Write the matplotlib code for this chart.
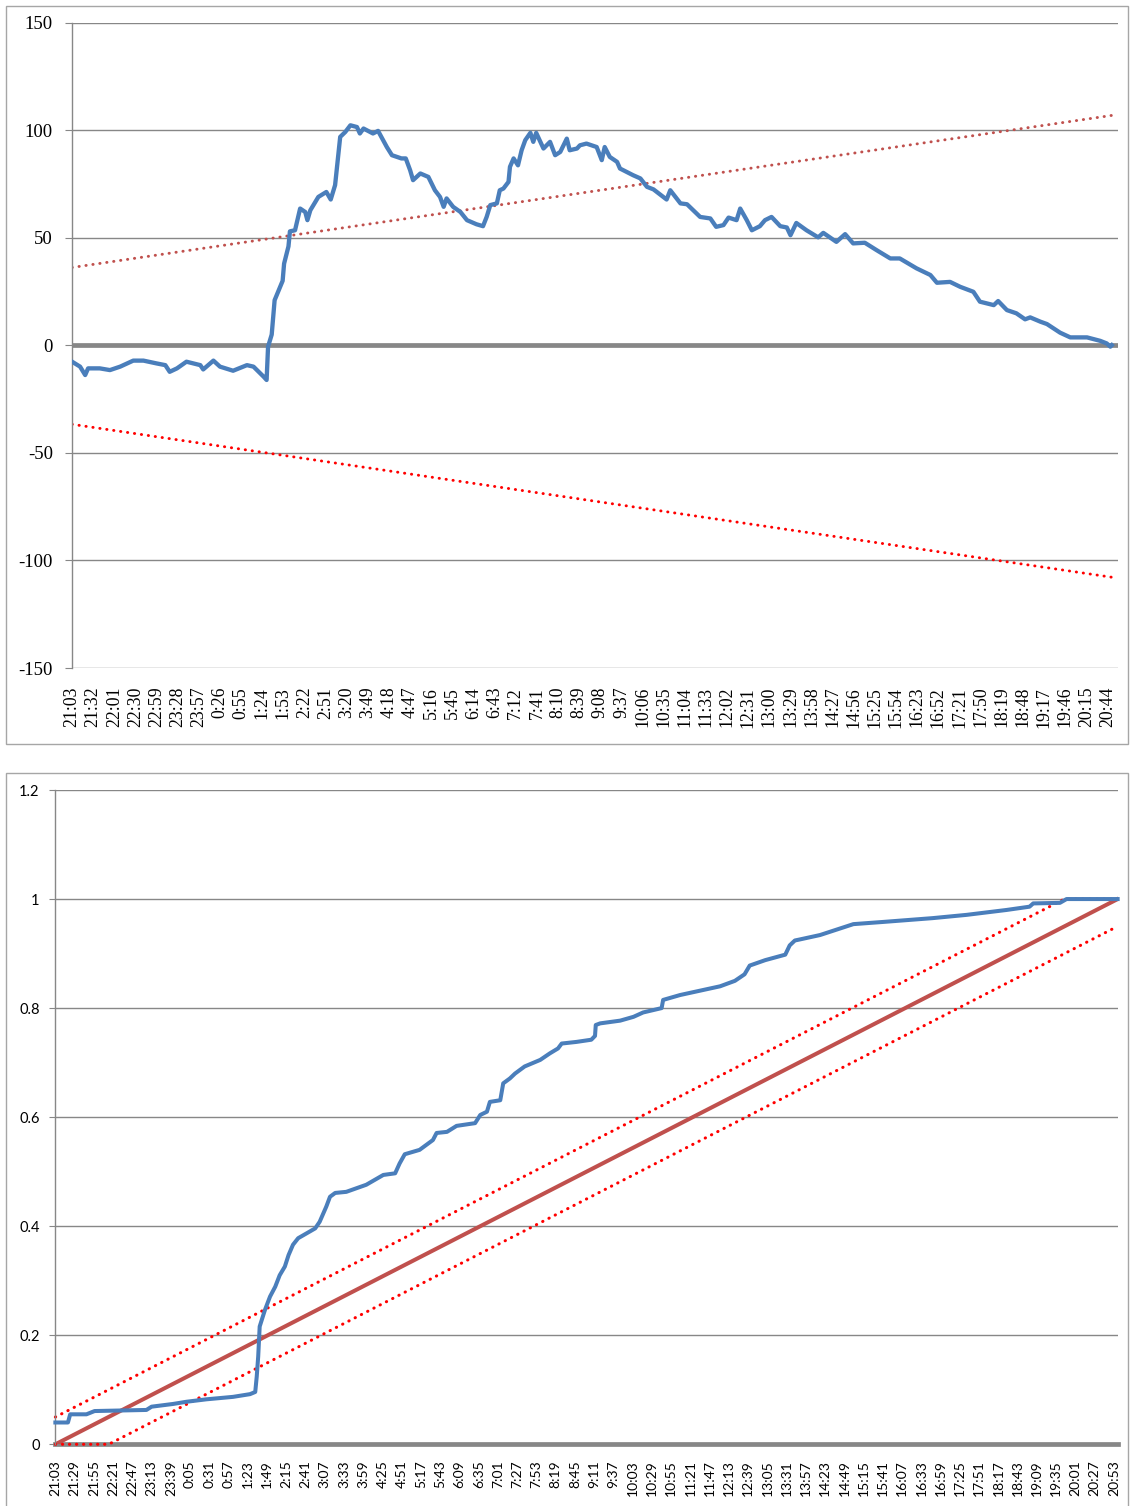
import numpy as np
import matplotlib.pyplot as plt
from matplotlib.patches import Rectangle

plt.rcParams['axes.unicode_minus'] = False
plt.rcParams['font.family'] = ['Liberation Serif', 'DejaVu Serif']

# --- Datos del gráfico superior (minuto desde 21:03, valor) ---
top_minutes = [0, 11, 18, 22, 38, 52, 66, 84, 98, 116, 128, 134, 144, 157, 176, 180, 194, 203,
               221, 240, 249, 263, 267, 269, 274, 278, 289, 291, 297, 299, 306, 313, 320, 323,
               327, 338, 349, 355, 361, 368, 375, 382, 391, 395, 400, 413, 420, 432, 439, 452,
               458, 464, 468, 478, 489, 498, 505, 510, 514, 523, 533, 542, 555, 564, 569, 574,
               583, 587, 592, 599, 601, 606, 612, 617, 622, 629, 633, 637, 647, 656, 663, 670,
               679, 683, 693, 697, 706, 720, 727, 731, 738, 748, 752, 770, 780, 789, 798, 816,
               821, 835, 844, 862, 876, 884, 894, 901, 912, 917, 926, 933, 944, 951, 960, 972,
               981, 986, 994, 1008, 1024, 1031, 1049, 1061, 1072, 1088, 1104, 1123, 1136, 1159,
               1178, 1187, 1205, 1219, 1237, 1246, 1265, 1271, 1283, 1296, 1308, 1315, 1329,
               1338, 1356, 1370, 1393, 1411, 1420, 1425, 1427]
top_values = [-7.6, -9.9, -13.8, -10.7, -10.7, -11.5, -9.9, -7.1, -7.1, -8.4, -9.2, -12.3, -10.7,
              -7.6, -9.2, -11.2, -7.1, -9.9, -11.8, -9.2, -9.9, -14.6, -16.1, -0.6, 5, 21, 30,
              38, 46, 53, 53.5, 63.6, 62, 58.2, 62.8, 69, 71.3, 67.8, 74.5, 96.9, 99.2, 102.3,
              101.5, 98.5, 100.8, 98.5, 99.7, 92.2, 88.4, 86.9, 86.9, 81.4, 76.8, 79.9, 78.3,
              72.1, 69, 64.4, 68.3, 64.4, 62, 58.2, 56.3, 55.4, 59.7, 65.2, 66, 72.1, 72.9, 76,
              83, 86.9, 83.7, 90.7, 95.4, 98.8, 94.6, 98.8, 91.5, 94.6, 88.4, 89.9, 96.1, 90.7,
              91.5, 93, 93.8, 92.2, 86.1, 92.2, 87.6, 85.3, 82.2, 79.1, 77.6, 73.7, 72.5, 67.8,
              72.1, 66, 65.6, 59.7, 59, 55.1, 55.9, 59.4, 58.2, 63.6, 58.2, 53.5, 55.4, 58.2,
              59.7, 55.4, 54.8, 51.2, 56.9, 53.5, 50.2, 52.3, 48.1, 51.7, 47.4, 47.7, 44.3, 40.4,
              40.4, 35.8, 32.7, 29.1, 29.5, 27.2, 24.9, 20.3, 18.7, 20.6, 16.4, 14.9, 12.1, 13,
              11, 9.9, 5.9, 3.7, 3.7, 2.1, 0.9, -0.6, 0.1]
top_band_minutes = [0, 1435]
top_upper_band = [36.2, 107.3]
top_lower_band = [-36.7, -108.2]
top_labels = ['21:03', '21:32', '22:01', '22:30', '22:59', '23:28', '23:57', '0:26', '0:55',
              '1:24', '1:53', '2:22', '2:51', '3:20', '3:49', '4:18', '4:47', '5:16', '5:45',
              '6:14', '6:43', '7:12', '7:41', '8:10', '8:39', '9:08', '9:37', '10:06', '10:35',
              '11:04', '11:33', '12:02', '12:31', '13:00', '13:29', '13:58', '14:27', '14:56',
              '15:25', '15:54', '16:23', '16:52', '17:21', '17:50', '18:19', '18:48', '19:17',
              '19:46', '20:15', '20:44']
TOP_LABEL_STEP = 29

# --- Datos del gráfico inferior (proporción acumulada) ---
bottom_minutes = [0, 17, 20, 42, 53, 123, 130, 159, 177, 204, 240, 263, 270, 272, 274, 276, 283,
                  290, 297, 303, 310, 315, 321, 328, 351, 357, 366, 371, 378, 393, 420, 443, 459,
                  465, 472, 492, 504, 510, 515, 529, 542, 567, 574, 583, 587, 601, 605, 614, 621,
                  634, 655, 668, 679, 684, 704, 724, 729, 730, 736, 763, 781, 794, 819, 821, 844,
                  871, 898, 918, 931, 938, 959, 986, 992, 999, 1006, 1033, 1078, 1118, 1185, 1231,
                  1285, 1316, 1321, 1357, 1366, 1435]
bottom_values = [0.04, 0.04, 0.055, 0.055, 0.061, 0.063, 0.069, 0.074, 0.078, 0.0825, 0.087,
                 0.092, 0.096, 0.124, 0.161, 0.216, 0.246, 0.271, 0.289, 0.31, 0.326, 0.347,
                 0.366, 0.378, 0.396, 0.408, 0.436, 0.454, 0.461, 0.463, 0.476, 0.494, 0.497,
                 0.515, 0.532, 0.54, 0.552, 0.558, 0.571, 0.573, 0.584, 0.589, 0.604, 0.61, 0.628,
                 0.631, 0.662, 0.671, 0.68, 0.693, 0.705, 0.717, 0.726, 0.735, 0.738, 0.742,
                 0.749, 0.769, 0.772, 0.777, 0.784, 0.792, 0.8, 0.815, 0.824, 0.832, 0.84, 0.85,
                 0.862, 0.878, 0.888, 0.898, 0.915, 0.924, 0.926, 0.934, 0.954, 0.958, 0.965,
                 0.971, 0.98, 0.986, 0.992, 0.993, 1.0, 1.0]
diag_minutes = [0, 1435]
diag_values = [0, 1]
upper_minutes = [0, 1363, 1435]
upper_values = [0.05, 1.0, 1.0]
lower_minutes = [0, 72, 1435]
lower_values = [0, 0, 0.95]
bottom_labels = ['21:03', '21:29', '21:55', '22:21', '22:47', '23:13', '23:39', '0:05', '0:31',
                 '0:57', '1:23', '1:49', '2:15', '2:41', '3:07', '3:33', '3:59', '4:25', '4:51',
                 '5:17', '5:43', '6:09', '6:35', '7:01', '7:27', '7:53', '8:19', '8:45', '9:11',
                 '9:37', '10:03', '10:29', '10:55', '11:21', '11:47', '12:13', '12:39', '13:05',
                 '13:31', '13:57', '14:23', '14:49', '15:15', '15:41', '16:07', '16:33', '16:59',
                 '17:25', '17:51', '18:17', '18:43', '19:09', '19:35', '20:01', '20:27', '20:53']
BOTTOM_LABEL_STEP = 26
N_MINUTES = 1436
BASELINE = 0

# --- Estilos ---
AZUL = '#4A7EBB'
ROJO_OSCURO = '#C0504D'
ROJO = '#FF0000'
GRIS = '#878787'
W, H = 1130, 1506


def px_rect(x0, y0, x1, y1):
    """Convierte una caja en pixeles (origen arriba) a fracciones de figura."""
    return [x0 / W, 1 - y1 / H, (x1 - x0) / W, (y1 - y0) / H]


fig = plt.figure(figsize=(W / 100, H / 100), dpi=100)

# Marcos grises de cada gráfico
for box in [(5.7, 5.7, 1128, 744.3), (5.7, 773.3, 1128, 1520)]:
    r = px_rect(*box)
    fig.add_artist(Rectangle((r[0], r[1]), r[2], r[3], transform=fig.transFigure,
                             fill=False, ec='#A6A6A6', lw=1.0))


def estilo_ejes(ax):
    for s in ['top', 'right', 'bottom']:
        ax.spines[s].set_visible(False)
    ax.spines['left'].set_color(GRIS)
    ax.spines['left'].set_linewidth(1.0)
    ax.grid(axis='y', color=GRIS, lw=1.0, zorder=0)
    ax.set_axisbelow(True)
    ax.set_xlim(-0.5, N_MINUTES - 0.5)


# 1. Gráfico superior (fuente tipo Times)
SERIF = ['Liberation Serif', 'DejaVu Serif']
ax1 = fig.add_axes(px_rect(71.7, 22.7, 1118, 668))
estilo_ejes(ax1)
ax1.axhline(BASELINE, color=GRIS, lw=3.4, zorder=1)
ax1.plot(top_band_minutes, top_upper_band, color=ROJO_OSCURO, lw=2.1,
         linestyle=(0, (0.1, 2.3)), dash_capstyle='round', zorder=2)
ax1.plot(top_band_minutes, top_lower_band, color=ROJO, lw=2.1,
         linestyle=(0, (0.1, 2.3)), dash_capstyle='round', zorder=2)
ax1.plot(top_minutes, top_values, color=AZUL, lw=3.1, solid_joinstyle='round', zorder=3)
ax1.set_ylim(-150, 150)
yt1 = np.arange(-150, 151, 50)
ax1.set_yticks(yt1)
ax1.set_yticklabels([str(v) for v in yt1], family=SERIF, fontsize=13.5)
ax1.set_xticks(np.arange(len(top_labels)) * TOP_LABEL_STEP)
ax1.set_xticklabels(top_labels, rotation=90, family=SERIF, fontsize=12.8)
ax1.tick_params(axis='y', length=5, color=GRIS, pad=8.5)
ax1.tick_params(axis='x', length=0, pad=13.5)

# 2. Gráfico inferior (fuente tipo Calibri)
SANS = ['Lato', 'DejaVu Sans']
ax2 = fig.add_axes(px_rect(55, 790, 1118, 1444.3))
estilo_ejes(ax2)
ax2.axhline(BASELINE, color=GRIS, lw=3.4, zorder=1, clip_on=False)
ax2.plot(diag_minutes, diag_values, color=ROJO_OSCURO, lw=2.9, zorder=2)
ax2.plot(upper_minutes, upper_values, color=ROJO, lw=2.2,
         linestyle=(0, (0.1, 2.2)), dash_capstyle='round', zorder=2, clip_on=False)
ax2.plot(lower_minutes, lower_values, color=ROJO, lw=2.2,
         linestyle=(0, (0.1, 2.2)), dash_capstyle='round', zorder=2, clip_on=False)
ax2.plot(bottom_minutes, bottom_values, color=AZUL, lw=2.9, zorder=3, clip_on=False)
ax2.set_ylim(0, 1.2)
yt2 = np.arange(0, 1.21, 0.2)
ax2.set_yticks(yt2)
ax2.set_yticklabels([f'{v:g}' for v in np.round(yt2, 1)], family=SANS, fontsize=10.5)
ax2.set_xticks(np.arange(len(bottom_labels)) * BOTTOM_LABEL_STEP)
ax2.set_xticklabels(bottom_labels, rotation=90, family=SANS, fontsize=10)
ax2.tick_params(axis='y', length=4, color=GRIS, pad=7)
ax2.tick_params(axis='x', length=0, pad=11.5)

fig.savefig('out.png', dpi=100)
